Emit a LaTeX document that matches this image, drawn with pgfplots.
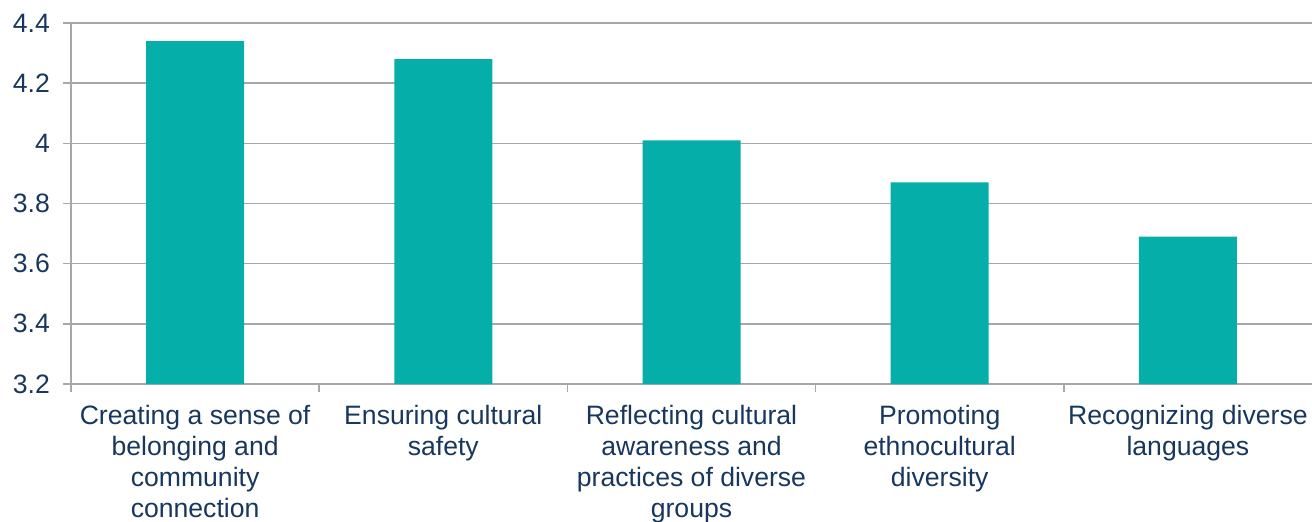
\documentclass[border=0pt]{standalone}
\usepackage{pgfplots}
\pgfplotsset{compat=1.18}
\usepackage{fontspec}
\setmainfont{Liberation Sans}
\usetikzlibrary{calc}
\definecolor{barc}{RGB}{5,174,169}
\definecolor{txtc}{RGB}{23,55,94}
\definecolor{gridc}{RGB}{166,166,172}
\begin{document}
\begin{tikzpicture}
\begin{axis}[
  name=a,
  scale only axis,
  width=620.5pt, height=180.5pt,
  xmin=-0.5, xmax=4.5,
  ymin=3.2, ymax=4.4,
  ytick={3.2,3.4,3.6,3.8,4,4.2,4.4},
  yticklabels={3.2,3.4,3.6,3.8,4,4.2,4.4},
  xtick={0,1,2,3,4},
  xticklabels={
    {Creating a sense of\\belonging and\\community\\connection},
    {Ensuring cultural\\safety},
    {Reflecting cultural\\awareness and\\practices of diverse\\groups},
    {Promoting\\ethnocultural\\diversity},
    {Recognizing diverse\\languages}},
  axis x line*=bottom,
  axis y line*=left,
  axis line style={draw=gridc, line width=0.8pt},
  ymajorgrids,
  grid style={draw=gridc, line width=0.8pt},
  tick align=outside,
  major tick length=4pt,
  y tick style={draw=gridc, line width=0.8pt},
  x tick style={draw=none},
  extra x ticks={-0.5,0.5,1.5,2.5,3.5},
  extra x tick labels={},
  extra x tick style={x tick style={draw=gridc, line width=0.8pt}, grid=none},
  ticklabel style={font=\fontsize{13.3pt}{15.5pt}\selectfont, text=txtc},
  yticklabel style={xshift=-3pt},
  xticklabel style={align=center, anchor=north, yshift=-3pt},
  ybar,
  bar width=49pt,
  clip=false,
]
\addplot[fill=barc, draw=none] coordinates {(0,4.34) (1,4.28) (2,4.01) (3,3.87) (4,3.69)};
\end{axis}
\pgfresetboundingbox
\path[use as bounding box] ($(a.south west)+(-35.5pt,-68.5pt)$) rectangle ($(a.north east)+(0,11.5pt)$);
\end{tikzpicture}
\end{document}
